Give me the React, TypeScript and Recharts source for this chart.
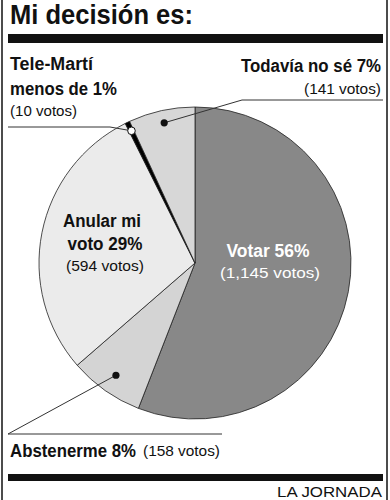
import React from "react";
import { PieChart, Pie, Cell } from "recharts";

const categories = ["Votar", "Abstenerme", "Anular mi voto", "Tele-Martí", "Todavía no sé"];
const votes = [1145, 158, 594, 10, 141];
const percentLabels = ["56%", "8%", "29%", "menos de 1%", "7%"];
const voteLabels = ["(1,145 votos)", "(158 votos)", "(594 votos)", "(10 votos)", "(141 votos)"];
const colors = ["#888888", "#d4d4d4", "#ebebeb", "#000000", "#d7d7d7"];

const data = categories.map((name, i) => ({ name, value: votes[i] }));

const BOLD = "'Liberation Sans Narrow', 'Liberation Sans', Arial, sans-serif";
const REG = "'Liberation Sans', Arial, sans-serif";

type TProps = {
  x: number;
  y: number;
  w: number;
  size: number;
  bold?: boolean;
  anchor?: "start" | "middle" | "end";
  fill?: string;
  children: React.ReactNode;
};

const T = ({ x, y, w, size, bold, anchor = "start", fill = "#111", children }: TProps) => (
  <text
    x={x}
    y={y}
    fontSize={size}
    fontWeight={bold ? 700 : 400}
    fontFamily={bold ? BOLD : REG}
    textAnchor={anchor}
    fill={fill}
    textLength={w}
    lengthAdjust="spacingAndGlyphs"
  >
    {children}
  </text>
);

// dot radius fraction per slice for leader lines
const dotFrac: Record<string, number> = {
  Abstenerme: 0.88,
  "Tele-Martí": 0.94,
  "Todavía no sé": 0.92,
};

const RAD = Math.PI / 180;

const renderLabel = (props: any) => {
  const { cx, cy, midAngle, outerRadius, index } = props;
  const name = categories[index];
  if (index === 0) {
    return (
      <g key={name}>
        <T x={268} y={257} w={83} size={18} bold anchor="middle" fill="#fff">{`${categories[0]} ${percentLabels[0]}`}</T>
        <T x={270} y={278} w={100} size={15} anchor="middle" fill="#fff">{voteLabels[0]}</T>
      </g>
    );
  }
  if (index === 2) {
    return (
      <g key={name}>
        <T x={102} y={227} w={78} size={18} bold anchor="middle">Anular mi</T>
        <T x={105} y={250} w={75} size={18} bold anchor="middle">{`voto ${percentLabels[2]}`}</T>
        <T x={105} y={271} w={78} size={15} anchor="middle">{voteLabels[2]}</T>
      </g>
    );
  }
  const f = dotFrac[name];
  if (f === undefined) return null;
  const px = cx + outerRadius * f * Math.cos(-midAngle * RAD);
  const py = cy + outerRadius * f * Math.sin(-midAngle * RAD);
  if (name === "Todavía no sé") {
    return (
      <g key={name}>
        <polyline points={`${px},${py} 242,100 383,100`} fill="none" stroke="#333" strokeWidth={1} />
        <circle cx={px} cy={py} r={3.6} fill="#111" />
      </g>
    );
  }
  if (name === "Tele-Martí") {
    return (
      <g key={name}>
        <polyline points={`${px},${py} 110,127 8,127`} fill="none" stroke="#333" strokeWidth={1} />
        <circle cx={px} cy={py} r={3.8} fill="#fff" stroke="#111" strokeWidth={1} />
      </g>
    );
  }
  return (
    <g key={name}>
      <polyline points={`${px},${py} 8,434 222,434`} fill="none" stroke="#333" strokeWidth={1} />
      <circle cx={px} cy={py} r={3.6} fill="#111" />
    </g>
  );
};

export default function App() {
  return (
    <div style={{ width: 390, height: 500, position: "absolute", left: 0, top: 0, background: "#fff" }}>
      <PieChart width={390} height={500} margin={{ top: 0, right: 0, bottom: 0, left: 0 }}>
        <rect x={0} y={0} width={390} height={500} fill="#fff" />
        <line x1={2} y1={0} x2={2} y2={500} stroke="#111" strokeWidth={1.5} />
        <line x1={387} y1={0} x2={387} y2={500} stroke="#111" strokeWidth={1.5} />
        <T x={10} y={24} w={183} size={27} bold>Mi decisión es:</T>
        <rect x={8} y={34} width={375} height={9} fill="#111" />
        <Pie
          data={data}
          dataKey="value"
          nameKey="name"
          cx={195}
          cy={263}
          outerRadius={156}
          startAngle={90}
          endAngle={-270}
          stroke="#222"
          strokeWidth={0.8}
          isAnimationActive={false}
          label={renderLabel}
          labelLine={false}
        >
          {data.map((d, i) => (
            <Cell key={d.name} fill={colors[i]} />
          ))}
        </Pie>
        <T x={10} y={70} w={83} size={18} bold>{categories[3]}</T>
        <T x={10} y={95} w={107} size={18} bold>{percentLabels[3]}</T>
        <T x={10} y={116} w={67} size={15}>{voteLabels[3]}</T>
        <T x={381} y={72} w={140} size={18} bold anchor="end">{`${categories[4]} ${percentLabels[4]}`}</T>
        <T x={381} y={94} w={77} size={15} anchor="end">{voteLabels[4]}</T>
        <T x={10} y={457} w={126} size={18} bold>{`${categories[1]} ${percentLabels[1]}`}</T>
        <T x={143} y={456} w={77} size={15}>{voteLabels[1]}</T>
        <rect x={8} y={474} width={375} height={7} fill="#111" />
        <T x={382} y={497} w={105} size={15} anchor="end">LA JORNADA</T>
      </PieChart>
    </div>
  );
}
